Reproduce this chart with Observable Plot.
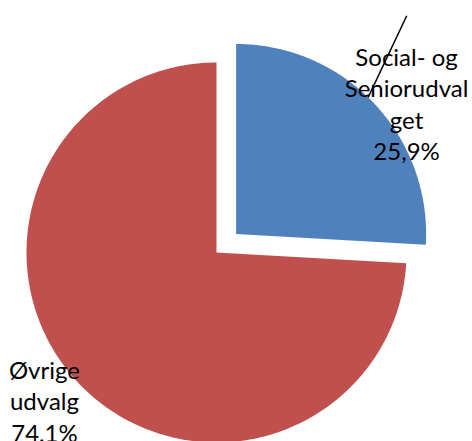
<!DOCTYPE html>
<html>
<head>
<meta charset="utf-8">
<script src="https://cdn.jsdelivr.net/npm/d3@7"></script>
<script src="https://cdn.jsdelivr.net/npm/@observablehq/plot@0.6"></script>
<style>
  html, body { margin: 0; padding: 0; background: #fff; }
  #chart svg { display: block; }
</style>
</head>
<body>
<div id="chart"></div>
<script>
// ---- data ----
const categories = ["Social- og Seniorudvalget", "Øvrige udvalg"];
const labelLines = ["Social- og\nSeniorudval\nget", "Øvrige\nudvalg"];
const shares = [25.9, 74.1];
const pctLabels = ["25,9%", "74,1%"];
const colors = ["#4F81BD", "#C0504D"];

// ---- layout ----
const W = 472, H = 441;
const R = 190;               // pie radius in px
const cx = 216, cy = 252;    // pie centre in px
const explode = [0.142, 0];  // explode distance (radius units)
const labelRadius = [1.132, 1.194];
const labelTurn = [5.8, 2.7].map(d => d * Math.PI / 180);

const rows = categories.map((c, i) => ({ category: c, share: shares[i], lines: labelLines[i], pct: pctLabels[i], i }));
const arcs = d3.pie().sort(null).value(d => d.share)(rows);

const slicePts = [];
const labelRows = [];
let leader = null;
arcs.forEach(a => {
  const i = a.data.i;
  const mid = (a.startAngle + a.endAngle) / 2;
  const ox = explode[i] * Math.sin(mid), oy = explode[i] * Math.cos(mid);
  slicePts.push({ category: a.data.category, x: ox, y: oy });
  const n = 240;
  for (let k = 0; k <= n; k++) {
    const t = a.startAngle + (a.endAngle - a.startAngle) * k / n;
    slicePts.push({ category: a.data.category, x: ox + Math.sin(t), y: oy + Math.cos(t) });
  }
  slicePts.push({ category: a.data.category, x: ox, y: oy });
  const la = mid + labelTurn[i];
  labelRows.push({
    text: a.data.lines + "\n" + a.data.pct,
    x: ox + labelRadius[i] * Math.sin(la),
    y: oy + labelRadius[i] * Math.cos(la)
  });
  if (i === 0) {
    const a1 = mid - 2.6 * Math.PI / 180, a2 = mid - 8.6 * Math.PI / 180;
    leader = [{
      x1: ox + 1.0 * Math.sin(a1), y1: oy + 1.0 * Math.cos(a1),
      x2: ox + 1.458 * Math.sin(a2), y2: oy + 1.458 * Math.cos(a2)
    }];
  }
});

const chart = Plot.plot({
  width: W,
  height: H,
  margin: 0,
  x: { domain: [-cx / R, (W - cx) / R], range: [0, W], axis: null },
  y: { domain: [-(H - cy) / R, cy / R], range: [H, 0], axis: null },
  color: { domain: categories, range: colors },
  style: { background: "#fff" },
  marks: [
    Plot.line(slicePts, { x: "x", y: "y", z: "category", fill: "category", stroke: "none", curve: "linear" }),
    Plot.link(leader, { x1: "x1", y1: "y1", x2: "x2", y2: "y2", stroke: "#000", strokeWidth: 1.5 }),
    Plot.text(labelRows, {
      x: "x", y: "y", text: "text",
      fontSize: 24, lineHeight: 1.31, fontFamily: "Lato", fill: "#000",
      textAnchor: "middle"
    })
  ]
});
document.getElementById("chart").appendChild(chart);
</script>
</body>
</html>
